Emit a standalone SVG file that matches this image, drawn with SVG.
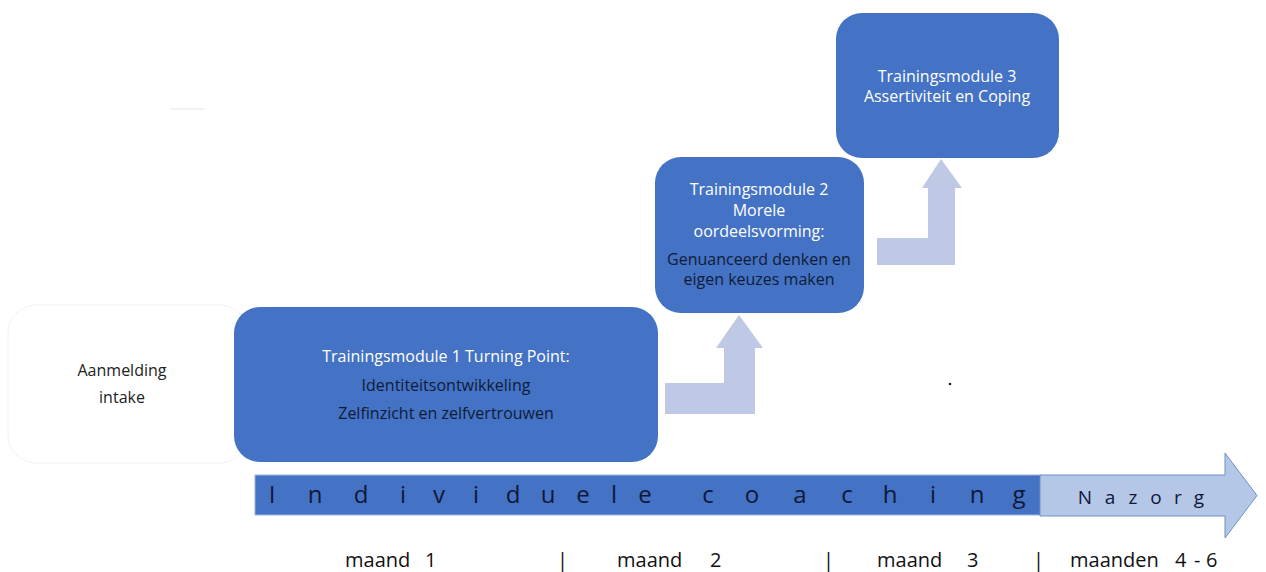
<svg xmlns="http://www.w3.org/2000/svg" width="1266" height="572" viewBox="0 0 1266 572">
<style>
.box{fill:#4472C4;}
.t{font-family:"Open Sans","Noto Sans",sans-serif;text-anchor:middle;}
.w{fill:#ffffff;font-size:16px;}
.d{fill:#0f1c38;font-size:16px;}
.bar{font-family:"Open Sans","Noto Sans",sans-serif;font-size:24px;fill:#10183a;text-anchor:middle;}
.lbl{font-family:"Open Sans","Noto Sans",sans-serif;font-size:20px;fill:#111;}
.conn{fill:#BFC9E5;}
</style>
<rect width="1266" height="572" fill="#ffffff"/>
<line x1="170" y1="109" x2="204" y2="109" stroke="#e6e6e6" stroke-width="1"/>
<circle cx="950" cy="384" r="1.3" fill="#222"/>

<g id="aanmelding">
<rect x="8" y="305" width="240" height="158" rx="28" fill="#ffffff" stroke="#f1f1f1" stroke-width="1"/>
<text class="t" x="122" y="376" font-size="16" fill="#222">Aanmelding</text>
<text class="t" x="122" y="403" font-size="16" fill="#222">intake</text>
</g>

<g id="module1">
<rect class="box" x="234" y="307" width="424" height="155" rx="26"/>
<text class="t w" x="446" y="362">Trainingsmodule 1 Turning Point:</text>
<text class="t d" x="446" y="391">Identiteitsontwikkeling</text>
<text class="t d" x="446" y="419">Zelfinzicht en zelfvertrouwen</text>
</g>

<g id="module2">
<rect class="box" x="655" y="157" width="209" height="156" rx="26"/>
<text class="t w" x="759" y="195">Trainingsmodule 2</text>
<text class="t w" x="759" y="216">Morele</text>
<text class="t w" x="759" y="237">oordeelsvorming:</text>
<text class="t d" x="759" y="265" font-size="15">Genuanceerd denken en</text>
<text class="t d" x="759" y="285" font-size="15">eigen keuzes maken</text>
</g>

<g id="module3">
<rect class="box" x="836" y="13" width="223" height="145" rx="26"/>
<text class="t w" x="947" y="82">Trainingsmodule 3</text>
<text class="t w" x="947" y="102">Assertiviteit en Coping</text>
</g>

<g id="connectors">
<path class="conn" d="M665,383 H724 V348 H716 L739,315 L763,348 H755 V414 H665 Z"/>
<path class="conn" d="M877,238 H928 V188 H922 L941,159 L962,188 H955 V265 H877 Z"/>
</g>

<g id="timeline">
<rect x="255" y="475" width="786" height="40" fill="#4472C4" stroke="#9DB3E0" stroke-width="1"/>
<text class="bar" y="503" x="272 315 361 403 439 476 513 548 583 614 645 708 752 800 847 890 933 977 1019">Individuelecoaching</text>
</g>

<g id="nazorg">
<path d="M1040,475 H1225 V453 L1257,495.5 L1225,538 V516 H1040 Z" fill="#B4C7E7" stroke="#6F8FCB" stroke-width="1"/>
<text class="bar" y="504" x="1085 1110 1133 1156 1178 1199" style="font-size:19px">Nazorg</text>
</g>

<g id="months">
<text class="lbl" x="345" y="567">maand</text>
<text class="lbl" x="425" y="567">1</text>
<text class="lbl" x="557" y="567">|</text>
<text class="lbl" x="617" y="567">maand</text>
<text class="lbl" x="710" y="567">2</text>
<text class="lbl" x="823" y="567">|</text>
<text class="lbl" x="877" y="567">maand</text>
<text class="lbl" x="967" y="567">3</text>
<text class="lbl" x="1033" y="567">|</text>
<text class="lbl" x="1070" y="567">maanden</text>
<text class="lbl" x="1175" y="567">4</text>
<text class="lbl" x="1194" y="567">-</text>
<text class="lbl" x="1206" y="567">6</text>
</g>
</svg>
